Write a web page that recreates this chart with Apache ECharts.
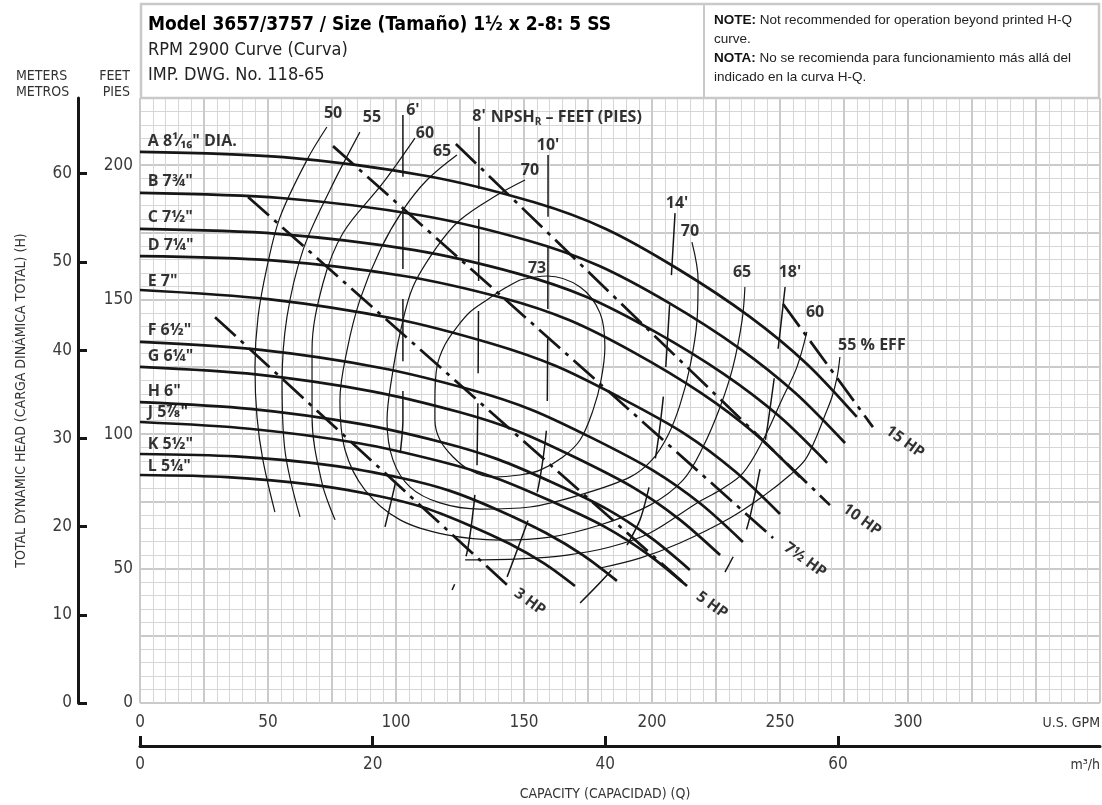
<!DOCTYPE html>
<html>
<head>
<meta charset="utf-8">
<title>Model 3657/3757 1½ x 2-8 pump curve</title>
<script src="https://cdn.jsdelivr.net/npm/echarts@6/dist/echarts.min.js"></script>
<style>
html, body { margin: 0; padding: 0; background: #fff; }
#chart { width: 1102px; height: 805px; }
</style>
</head>
<body>
<div id="chart"></div>
<script>
const COND = '"Liberation Sans Narrow", "DejaVu Sans Condensed", "Liberation Sans", sans-serif';
const SANS = '"Liberation Sans", Arial, sans-serif';
const BOLD = '"Open Sans", "Noto Sans", sans-serif';
const INK = '#161616';

// tick labels
const gpmTicks = [0, 50, 100, 150, 200, 250, 300];
const feetTicks = [0, 50, 100, 150, 200];
const meterTicks = [0, 10, 20, 30, 40, 50, 60];
const m3hTicks = [0, 20, 40, 60];

// H-Q curve per impeller diameter, [US GPM, feet]
const impA = [[0,205],[56,203],[112,196],[154,186.2],[182,176.3],[210,161.5],[238,143.8],[260.5,126.1],[280,106.4]];
const impB = [[0,189.7],[55,187.8],[110,181.3],[151.5,172],[179,162.7],[206.6,148.8],[234,132],[256,115.3],[275.4,96.7]];
const impC = [[0,176.3],[53.7,174.5],[107.3,168.4],[147.6,159.7],[174.5,151],[201.3,138],[228.1,122.3],[249.6,106.7],[268.4,89.3]];
const impD = [[0,166.2],[51.6,164.6],[103.1,158.8],[141.8,150.6],[167.6,142.4],[193.4,130.1],[219.1,115.3],[239.8,100.5],[257.8,84]];
const impE = [[0,153.6],[50,150.2],[100,142.8],[137.5,133.6],[162.5,125.3],[187.5,113.6],[212.5,100.3],[232.5,86.1],[250,70.3]];
const impF = [[0,134.3],[47.1,131.3],[94.2,124.6],[129.6,116.4],[153.1,109],[176.7,98.5],[200.2,86.6],[219.1,74],[235.5,59.9]];
const impG = [[0,125],[45.3,122.2],[90.6,115.9],[124.6,108.2],[147.3,101.2],[169.9,91.4],[192.6,80.2],[210.7,68.3],[226.6,55]];
const impH = [[0,111.9],[43,109.4],[85.9,103.8],[118.2,96.9],[139.6,90.7],[161.1,82],[182.6,72],[199.8,61.3],[214.8,49.5]];
const impJ = [[0,104.5],[42.7,102],[85.5,96.6],[117.5,89.8],[138.9,83.7],[160.3,75.2],[181.6,65.5],[198.7,55.1],[213.7,43.5]];
const impK = [[0,92.6],[37.3,91.7],[74.5,88.4],[102.5,83.6],[121.1,78.9],[139.8,71.8],[158.4,63.3],[173.3,54.8],[186.3,45.4]];
const impL = [[0,84.8],[34,84],[68,81.1],[93.5,76.9],[110.5,72.8],[127.4,66.6],[144.4,59.2],[158,51.8],[169.9,43.5]];
const impLabels = [
  [3, 209, 'A 8¹⁄₁₆" DIA.'], [3, 193.8, 'B 7¾"'], [3, 180.4, 'C 7½"'], [3, 170.3, 'D 7¼"'],
  [3, 156.6, 'E 7"'], [3, 138.7, 'F 6½"'], [3, 129, 'G 6¼"'], [3, 115.7, 'H 6"'],
  [3, 107.9, 'J 5⅞"'], [3, 96.3, 'K 5½"'], [3, 87.8, 'L 5¼"']
];

// iso-efficiency curves (%)
const eff50 = [[73,214.2],[65.2,201.9],[54.7,180.7],[49.6,162.1],[46.1,143.5],[44.9,124.9],[45.7,106.4],[48,90.4],[52.7,71]];
const eff55L = [[85.9,212.3],[74.2,190.8],[63.7,168.5],[57.4,143.5],[55.5,119],[56.6,94.1],[62.5,69.2]];
const eff55R = [[179.7,50.2],[195.3,53.9],[210.9,59.5],[230.5,68.8],[244.1,77.4],[253.9,84.8],[259.8,90.4],[263.7,97.8],[267.6,107.1],[270.3,113.8],[272.3,121.2],[273.4,128.7]];
const eff60L = [[107.4,210.1],[94.9,193.4],[79.3,174.8],[71.5,156.2],[67.2,131.3],[67.2,106.4],[71.1,81.8],[76.2,68.1]];
const eff60R = [[127,53.2],[148.4,53.6],[166.8,55],[183.6,58],[199.2,63.2],[217.6,74.4],[226.6,79.2],[235.5,85.5],[243.4,97.8],[251.2,113.8],[256.6,124.9],[260.5,138]];
const eff65 = [[123.8,203.8],[112.1,194.5],[102.7,183.3],[93.8,168.5],[85.9,149.9],[80.9,131.3],[78.1,112.7],[80.1,94.1],[87.9,79.2],[101.6,68.1],[119.9,62.5],[140.6,60.6],[160.2,61.7],[179.7,66.2],[199.2,73.6],[212.1,82.9],[219.9,95.2],[226.6,110.1],[231.6,124.9],[235.2,142.4],[236.3,154.7]];
const eff70 = [[150.4,194.5],[139.5,188.9],[125,179.6],[116,169.6],[106.6,154.7],[101.6,137.6],[98.4,121.2],[96.5,105.2],[98.8,90.4],[105.5,80.3],[117.2,74.4],[132.8,72.1],[152.3,72.9],[171.9,77.4],[191.4,84],[200,90.4],[206.3,99.7],[210.9,110.8],[214.8,124.9],[217.6,142.4],[218,157.3],[215.6,171.4]];
const eff73 = [[148.4,157.3],[159,158.8],[171.9,154.7],[179.7,145],[181.6,132.4],[180.1,120.1],[177,109],[171.9,97.8],[165.2,91.5],[156.3,86.6],[148.4,84.8],[137.9,84],[128.9,86.6],[122.3,91.5],[117.2,97.8],[115.2,105.2],[115.2,112.7],[116,125],[119.1,133.2],[123.8,139.8],[128.9,145.4],[135.5,149.9],[142.6,154.3],[148.4,157.3]];
const effLabels = [
  [75.4, 219.4, '50'], [90.6, 217.6, '55'], [111.3, 212, '60'], [118, 205.3, '65'],
  [152.3, 198.2, '70'], [155.1, 161.8, '73'], [214.8, 175.2, '70'], [235.2, 160.3, '65'],
  [263.7, 145.4, '60']
];
const effUnitLabel = [[272.7, 133.1, '55 % EFF']];

// NPSH required (feet)
const npsh6 = [[102.7,218.7],[102.7,105.2],[100.8,86.6],[95.7,65.5]];
const npsh8 = [[132.4,214.2],[131.6,86.6],[127.7,55.8],[121.9,42]];
const npsh10 = [[159.4,203.8],[159,105.2],[155.1,78.1],[143.4,46.9]];
const npsh14 = [[209,182.2],[207,149.9],[204.7,116.4],[201.2,90.4],[195.3,68.1],[184.8,50.2],[171.9,37.2]];
const npsh18 = [[252,154.7],[249.2,131.3],[244.1,96.7],[237.1,65.1],[228.5,48.7]];
const npshLabels = [
  [106.6, 220.5, "6'"], [132.4, 218.3, "8'"], [159.4, 207.5, "10'"],
  [209.8, 185.9, "14'"], [253.9, 160.3, "18'"]
];
const npshTitle = [[137, 217.9, '{t|NPSH}{s|R}{t| – FEET (PIES)}']];

// motor power limits
const hp3 = [[29.3,143.5],[143.4,43.9]];
const hp5 = [[42.2,188.2],[213.7,43.5]];
const hp75 = [[75.4,207.1],[247.3,61.4]];
const hp10 = [[123.4,207.9],[269.5,73.6]];
const hp15 = [[251.2,148.4],[286.3,102.6]];
const hpLabels = [
  [152.3, 37.6, '3 HP'], [223.4, 36.4, '5 HP'], [259.8, 53.2, '7½ HP'],
  [282, 68.1, '10 HP'], [298.8, 97.1, '15 HP']
];

const chart = echarts.init(document.getElementById('chart'));

function curve(data, width, dash, smooth) {
  return {
    type: 'line', data: data, symbol: 'none', smooth: smooth,
    lineStyle: { color: INK, width: width, type: dash || 'solid', cap: 'butt' },
    silent: true, z: 3
  };
}
function labels(data, label) {
  return {
    type: 'scatter', data: data, symbolSize: 0, silent: true, z: 6,
    label: Object.assign({
      show: true, position: 'inside', formatter: p => p.data[2],
      color: '#000', fontFamily: BOLD, fontWeight: 'bold', fontSize: 16
    }, label)
  };
}

const series = [];
[impA, impB, impC, impD, impE, impF, impG, impH, impJ, impK, impL]
  .forEach(d => series.push(curve(d, 2.7, null, 0.3)));
[eff50, eff55L, eff55R, eff60L, eff60R, eff65, eff70, eff73]
  .forEach(d => series.push(curve(d, 1.2, null, 0.35)));
[npsh6, npsh8, npsh10, npsh14, npsh18]
  .forEach(d => series.push(curve(d, 1.5, [62, 30], 0.2)));
[hp3, hp5, hp75, hp10, hp15]
  .forEach(d => series.push(curve(d, 2.7, [28, 7, 4, 7], false)));
series.push(labels(impLabels, { position: 'right', distance: 0, fontSize: 16 }));
series.push(labels(effLabels, {}));
series.push(labels(effUnitLabel, { position: 'right', distance: 0 }));
series.push(labels(npshLabels, {}));
series.push(labels(npshTitle, {
  position: 'right', distance: 0,
  rich: {
    t: { fontFamily: BOLD, fontWeight: 'bold', fontSize: 16, color: '#000' },
    s: { fontFamily: BOLD, fontWeight: 'bold', fontSize: 10, color: '#000', padding: [11, 0, 0, 0] }
  }
}));
series.push(labels(hpLabels, { rotate: -36, fontSize: 15.5 }));

const tickText = { fontFamily: COND, fontSize: 17, color: '#3a3a3a' };

chart.setOption({
  animation: false,
  backgroundColor: '#fff',
  grid: { left: 140, right: 2, top: 98, bottom: 102 },
  xAxis: [{
    type: 'value', min: 0, max: 375, interval: 25, position: 'bottom',
    axisLine: { show: false }, axisTick: { show: false },
    axisLabel: Object.assign({ customValues: gpmTicks, margin: 11 }, tickText),
    splitLine: { show: true, lineStyle: { color: '#cacaca', width: 2 } },
    minorTick: { show: false, splitNumber: 5 },
    minorSplitLine: { show: true, lineStyle: { color: '#d6d6d6', width: 1 } }
  }, {
    type: 'value', min: 0, max: 82.53, position: 'bottom', offset: 43,
    axisLine: { show: true, onZero: false, lineStyle: { color: INK, width: 3 } },
    axisTick: { show: true, inside: true, length: 10, customValues: m3hTicks, lineStyle: { color: INK, width: 3 } },
    axisLabel: Object.assign({ customValues: m3hTicks, margin: 10 }, tickText),
    splitLine: { show: false }
  }],
  yAxis: [{
    type: 'value', min: 0, max: 225, interval: 25,
    axisLine: { show: false }, axisTick: { show: false },
    axisLabel: Object.assign({ customValues: feetTicks, margin: 7 }, tickText),
    splitLine: { show: true, lineStyle: { color: '#cacaca', width: 2 } },
    minorTick: { show: false, splitNumber: 5 },
    minorSplitLine: { show: true, lineStyle: { color: '#d6d6d6', width: 1 } }
  }, {
    type: 'value', min: 0, max: 68.58, position: 'left', offset: 62,
    axisLine: { show: true, onZero: false, lineStyle: { color: INK, width: 3 } },
    axisTick: { show: true, inside: true, length: 9, customValues: meterTicks, lineStyle: { color: INK, width: 3 } },
    axisLabel: Object.assign({ customValues: meterTicks, margin: 6 }, tickText),
    splitLine: { show: false },
    name: 'TOTAL DYNAMIC HEAD (CARGA DINÁMICA TOTAL) (H)',
    nameLocation: 'middle', nameRotate: 90, nameGap: 50,
    nameTextStyle: { fontFamily: COND, fontSize: 14, color: '#333' }
  }],
  graphic: [
    { type: 'rect', z: 10, shape: { x: 141, y: 4, width: 958, height: 94 },
      style: { fill: '#fff', stroke: '#c9c9c9', lineWidth: 2.5 } },
    { type: 'line', z: 11, shape: { x1: 704, y1: 4, x2: 704, y2: 98 },
      style: { stroke: '#c9c9c9', lineWidth: 2 } },
    { type: 'text', z: 12, x: 148, y: 25, style: { text: 'Model 3657/3757 / Size (Tamaño) 1½ x 2-8: 5 SS',
      font: 'bold 19px ' + COND, fill: '#000', verticalAlign: 'middle' } },
    { type: 'text', z: 12, x: 148, y: 50, style: { text: 'RPM 2900 Curve (Curva)',
      font: '18px ' + COND, fill: '#222', verticalAlign: 'middle' } },
    { type: 'text', z: 12, x: 148, y: 75, style: { text: 'IMP. DWG. No. 118-65',
      font: '18px ' + COND, fill: '#222', verticalAlign: 'middle' } },
    { type: 'text', z: 12, x: 714, y: 11, style: {
      text: '{b|NOTE:} Not recommended for operation beyond printed H-Q\ncurve.\n{b|NOTA:} No se recomienda para funcionamiento más allá del\nindicado en la curva H-Q.',
      font: '13.5px ' + SANS, fill: '#222', lineHeight: 19, verticalAlign: 'top',
      rich: { b: { fontWeight: 'bold', fontFamily: SANS, fontSize: 13.5, fill: '#111' } } } },
    { type: 'text', x: 16, y: 76, style: { text: 'METERS', font: '14px ' + COND, fill: '#333', verticalAlign: 'middle' } },
    { type: 'text', x: 16, y: 92, style: { text: 'METROS', font: '14px ' + COND, fill: '#333', verticalAlign: 'middle' } },
    { type: 'text', x: 130, y: 76, style: { text: 'FEET', font: '14px ' + COND, fill: '#333', align: 'right', verticalAlign: 'middle' } },
    { type: 'text', x: 130, y: 92, style: { text: 'PIES', font: '14px ' + COND, fill: '#333', align: 'right', verticalAlign: 'middle' } },
    { type: 'text', x: 1100, y: 723, style: { text: 'U.S. GPM', font: '14px ' + COND, fill: '#333', align: 'right', verticalAlign: 'middle' } },
    { type: 'text', x: 1100, y: 765, style: { text: 'm³/h', font: '14px ' + COND, fill: '#333', align: 'right', verticalAlign: 'middle' } },
    { type: 'text', x: 605, y: 794, style: { text: 'CAPACITY (CAPACIDAD) (Q)', font: '14px ' + COND, fill: '#333', align: 'center', verticalAlign: 'middle' } }
  ],
  series: series
});
</script>
</body>
</html>
